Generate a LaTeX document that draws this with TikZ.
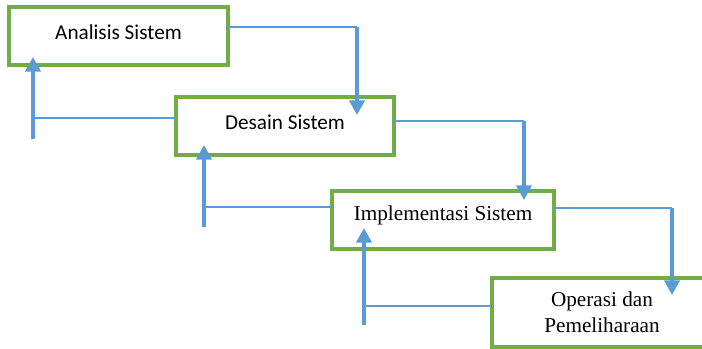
\documentclass[tikz,border=0pt]{standalone}
\usepackage{fontspec}
\setmainfont{Liberation Serif}
\newfontfamily\boxsans{Carlito}
\usetikzlibrary{arrows.meta}
\definecolor{flowblue}{HTML}{5B9BD5}
\definecolor{boxgreen}{HTML}{70AD47}
\tikzset{
  stagebox/.style={draw=boxgreen, line width=2.5pt, fill=white, rectangle,
    inner sep=0pt, outer sep=0pt, minimum height=43.5pt,
    font=\fontsize{15.9}{19.3}\selectfont},
  sanslabel/.style={font=\boxsans\fontsize{15.9}{19.3}\selectfont, text height=11pt, text depth=6pt},
  thinlink/.style={draw=flowblue, line width=1.1pt},
  thicklink/.style={draw=flowblue, line width=2.4pt, -{Triangle[width=11.5pt,length=11pt]}}
}
\begin{document}
\begin{tikzpicture}[x=0.75pt, y=-0.75pt]
\clip (0,0) rectangle (702,349);
\fill[white] (0,0) rectangle (702,349);

% boxes
\node[stagebox, sanslabel, minimum width=164.25pt] (b1) at (118.5,36) {Analisis Sistem};
\node[stagebox, sanslabel, minimum width=163.5pt] (b2) at (285,126) {Desain Sistem};
\node[stagebox, minimum width=166.5pt, text height=10.5pt, text depth=9.5pt] (b3) at (443,220) {Implementasi Sistem};
\node[stagebox, minimum width=165pt, minimum height=51.75pt, align=center] (b4) at (602,312.5) {Operasi dan\\Pemeliharaan};

% forward path coordinates
\coordinate (f1) at (357,27);
\coordinate (t1) at (357,115);
\coordinate (f2) at (524,121);
\coordinate (t2) at (524,200);
\coordinate (f3) at (672,208);
\coordinate (t3) at (672,295);

% feedback coordinates
\coordinate (h1) at (33,118);
\coordinate (s1) at (33,139);
\coordinate (e1) at (33,57);
\coordinate (h2) at (204,207);
\coordinate (s2) at (204,227);
\coordinate (e2) at (204,145);
\coordinate (h3) at (364,306);
\coordinate (s3) at (364,325);
\coordinate (e3) at (364,228);

% forward links
\draw[thinlink] (b1.east |- f1) -- (f1);
\draw[thicklink] (f1) -- (t1);
\draw[thinlink] (b2.east |- f2) -- (f2);
\draw[thicklink] (f2) -- (t2);
\draw[thinlink] (b3.east |- f3) -- (f3);
\draw[thicklink] (f3) -- (t3);

% feedback links
\draw[thinlink] (b2.west |- h1) -- (h1);
\draw[thicklink] (s1) -- (e1);
\draw[thinlink] (b3.west |- h2) -- (h2);
\draw[thicklink] (s2) -- (e2);
\draw[thinlink] (b4.west |- h3) -- (h3);
\draw[thicklink] (s3) -- (e3);
\end{tikzpicture}
\end{document}
